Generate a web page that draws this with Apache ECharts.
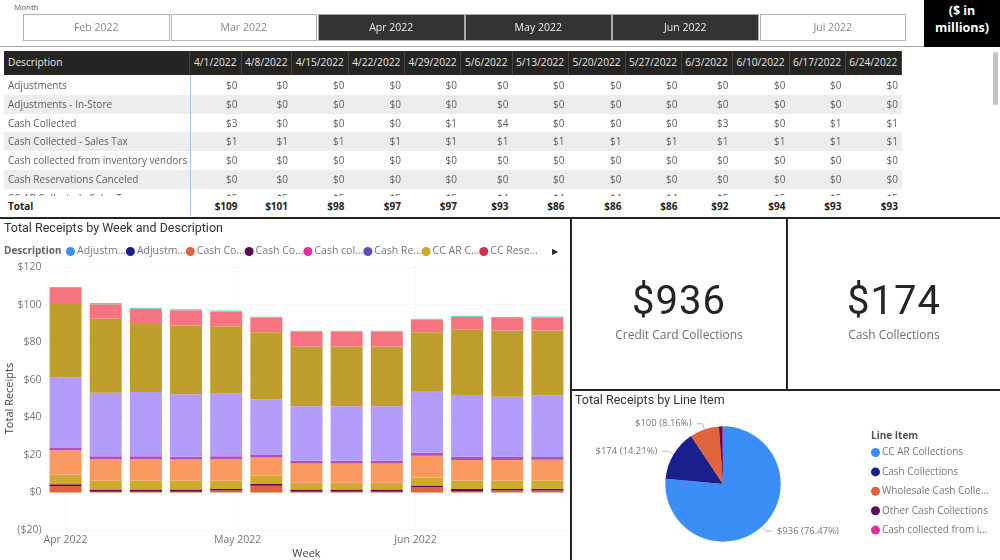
<!DOCTYPE html>
<html>
<head>
<meta charset="utf-8">
<title>Receipts</title>
<script src="https://cdn.jsdelivr.net/npm/echarts@6/dist/echarts.min.js"></script>
<style>
    html, body { margin: 0; padding: 0; background: #fff; }
    #page { position: relative; width: 1000px; height: 560px; overflow: hidden; font-family: "Open Sans", sans-serif; }
    #page div { position: absolute; box-sizing: border-box; white-space: nowrap; }
    #main { left: 0; top: 0; width: 1000px; height: 560px; }
    .slicer { top: 14px; height: 27px; line-height: 25px; text-align: center; font-size: 10.5px; color: #8a8a8a; border: 1px solid #b3b3b3; background: #fff; }
    .slicer.on { background: #333; color: #eee; border-color: #aaa; }
    .cell { font-size: 10px; text-align: right; padding-right: 4px; color: #605e5c; height: 19px; line-height: 19px; }
    .cell.name { text-align: left; padding: 0 0 0 4px; }
    .head { top: 51px; height: 24px; line-height: 22px; background: #252423; color: #e6e6e6; font-size: 10.2px; text-align: center; border-right: 1px solid #444; }
    .tot { top: 197px; height: 19px; line-height: 19px; font-size: 10px; font-weight: 700; color: #222; text-align: right; padding-right: 4px; background: #fff; }
    .rule { background: #252423; }
    .big { font-family: "Roboto", sans-serif; font-size: 40px; letter-spacing: 1px; color: #252423; text-align: center; line-height: 50px; }
    .sub { font-size: 12px; color: #6f6f6f; text-align: center; line-height: 18px; }
</style>
</head>
<body>
<div id="page">
    <div id="main"></div>
</div>
<script>
// slicer
var months = ['Feb 2022', 'Mar 2022', 'Apr 2022', 'May 2022', 'Jun 2022', 'Jul 2022'];
var monthsOn = ['Apr 2022', 'May 2022', 'Jun 2022'];

// table
var weeks = ['4/1/2022', '4/8/2022', '4/15/2022', '4/22/2022', '4/29/2022', '5/6/2022', '5/13/2022', '5/20/2022', '5/27/2022', '6/3/2022', '6/10/2022', '6/17/2022', '6/24/2022'];
var rowNames = ['Adjustments', 'Adjustments - In-Store', 'Cash Collected', 'Cash Collected - Sales Tax', 'Cash collected from inventory vendors', 'Cash Reservations Canceled', 'CC AR Collected - Sales Tax'];
var rowAdjustments = [0, 0, 0, 0, 0, 0, 0, 0, 0, 0, 0, 0, 0];
var rowInStore = [0, 0, 0, 0, 0, 0, 0, 0, 0, 0, 0, 0, 0];
var rowCash = [3, 0, 0, 0, 1, 4, 0, 0, 0, 3, 0, 1, 1];
var rowSalesTax = [1, 1, 1, 1, 1, 1, 1, 1, 1, 1, 1, 1, 1];
var rowVendors = [0, 0, 0, 0, 0, 0, 0, 0, 0, 0, 0, 0, 0];
var rowCanceled = [0, 0, 0, 0, 0, 0, 0, 0, 0, 0, 0, 0, 0];
var rowArTax = [5, 5, 5, 5, 5, 4, 4, 4, 4, 5, 5, 5, 5];
var totals = [109, 101, 98, 97, 97, 93, 86, 86, 86, 92, 94, 93, 93];

// stacked bars
var weekDates = ['2022-04-01', '2022-04-08', '2022-04-15', '2022-04-22', '2022-04-29', '2022-05-06', '2022-05-13', '2022-05-20', '2022-05-27', '2022-06-03', '2022-06-10', '2022-06-17', '2022-06-24'];
var adjustments = [0, 0, 0, 0, 0, 0, 0, 0, 0, 0, 0, 0, 0];
var adjustmentsStore = [0, 0, 0, 0, 0, 0, 0, 0, 0, 0, 0, 0, 0];
var cashCollected = [3.4, 0.4, 0.4, 0.4, 1.0, 3.6, 0.4, 0.4, 0.4, 2.7, 0.5, 1.0, 1.0];
var cashSalesTax = [1.0, 1.1, 1.1, 1.1, 0.8, 0.9, 1.1, 1.1, 1.1, 1.0, 1.3, 0.8, 0.9];
var cashVendors = [0, 0, 0, 0, 0, 0, 0, 0, 0, 0, 0, 0, 0];
var cashReservations = [0, 0, 0, 0, 0, 0, 0, 0, 0, 0, 0, 0, 0];
var ccArTax = [5.2, 4.9, 4.9, 4.9, 4.6, 4.4, 3.6, 3.6, 3.6, 4.3, 4.6, 4.6, 4.5];
var ccReservations = [0, 0, 0, 0, 0, 0, 0, 0, 0, 0, 0, 0, 0];
var item9 = [12.9, 11.3, 11.3, 11.1, 11.3, 9.7, 10.3, 10.3, 10.3, 11.5, 10.8, 10.8, 11.0];
var item10 = [1.4, 1.6, 1.6, 1.5, 1.6, 1.3, 1.4, 1.4, 1.4, 1.6, 1.8, 1.6, 1.4];
var item11 = [37.3, 33.7, 34.1, 33.3, 33.4, 29.6, 29.1, 29.1, 29.1, 32.5, 32.5, 32.1, 32.8];
var item12 = [39.6, 39.4, 36.2, 36.6, 35.8, 35.7, 31.8, 31.8, 31.8, 31.6, 35.3, 35.3, 34.6];
var item13 = [8.0, 7.8, 8.2, 8.1, 7.8, 7.8, 7.8, 7.8, 7.8, 6.7, 6.7, 6.7, 6.9];
var item14 = [0.6, 0.6, 0.5, 0.5, 0.5, 0.5, 0.5, 0.5, 0.5, 0.6, 0.6, 0.5, 0.5];
var monthTicks = ['2022-04-01', '2022-05-01', '2022-06-01'];
var valueTicks = [-20, 0, 20, 40, 60, 80, 100, 120];

// pie
var lineItems = ['CC AR Collections', 'Cash Collections', 'Wholesale Cash Collections', 'Other Cash Collections', 'Cash collected from inventory vendors'];
var lineValues = [936, 174, 100, 13, 1];
var linePercents = ['76.47', '14.21', '8.16', '1.06', '0.10'];

var page = document.getElementById('page');
function add(cls, text, left, top, width, height, extra) {
    var d = document.createElement('div');
    d.className = cls;
    d.textContent = text;
    d.style.left = left + 'px';
    if (top != null) d.style.top = top + 'px';
    if (width != null) d.style.width = width + 'px';
    if (height != null) d.style.height = height + 'px';
    if (extra) d.style.cssText += extra;
    (add.parent || page).appendChild(d);
    return d;
}

// slicer strip
add('', 'Month', 14, 1, null, 12, 'font-size:8px;color:#555;line-height:12px');
var slicerX = [23, 170.5, 318, 465, 612, 759.5];
months.forEach(function (m, i) {
    add('slicer' + (monthsOn.indexOf(m) >= 0 ? ' on' : ''), m, slicerX[i], null, 146.5);
});
add('', '', 0, 46, 924, 1, 'background:#aaa');
add('', '($ in\nmillions)', 924, 0, 76, 47, 'background:#000;color:#fff;font-weight:700;font-size:12.5px;line-height:17px;text-align:center;white-space:pre-line;padding-top:2px');

// table
var colX = [4, 190, 241.5, 292, 348.5, 405, 461, 512.5, 568.5, 625.5, 681.5, 732.5, 789.5, 845.5, 902];
add('head', 'Description', colX[0], null, colX[1] - colX[0], null, 'text-align:left;padding-left:4px;top:51px');
weeks.forEach(function (w, i) {
    add('head', w, colX[i + 1], null, colX[i + 2] - colX[i + 1]);
});
var rows = [rowAdjustments, rowInStore, rowCash, rowSalesTax, rowVendors, rowCanceled, rowArTax];
var rowY = [76, 94.6, 113.5, 132, 151, 170, 189];
var body = add('', '', 0, 76, 902, 119.5, 'overflow:hidden');
add.parent = body;
rows.forEach(function (r, i) {
    var y = rowY[i] - 76;
    if (i % 2 == 1) add('', '', 4, y, 898, 19, 'background:#ededed');
    add('cell name', rowNames[i], 4, y, 186);
    r.forEach(function (v, j) {
        add('cell', '$' + v, colX[j + 1], y, colX[j + 2] - colX[j + 1]);
    });
});
add.parent = null;
add('tot', 'Total', colX[0], null, colX[1] - colX[0], null, 'text-align:left;padding-left:4px');
totals.forEach(function (v, j) {
    add('tot', '$' + v, colX[j + 1], null, colX[j + 2] - colX[j + 1]);
});
add('', '', 189.5, 75, 1, 141, 'background:#a9c4e8');
add('', '', 993, 52, 5, 53, 'background:#c4c4c4;border-radius:2px');

// panel rules
add('rule', '', 0, 217, 1000, 2);
add('rule', '', 570, 218, 2, 342);
add('rule', '', 785.5, 218, 2, 172);
add('rule', '', 570, 389, 430, 2);

// cards
add('big', '$936', 572, 276, 214);
add('sub', 'Credit Card Collections', 572, 326, 214);
add('big', '$174', 788, 276, 212);
add('sub', 'Cash Collections', 788, 326, 212);

// legend pager arrow
add('', '\u25B6', 552, 245, null, 12, 'font-size:8px;line-height:12px;color:#252423');

function toTime(d) {
    return echarts.time.parse(d).getTime();
}
var axisText = { color: '#777', fontSize: 10.5, fontFamily: 'Open Sans' };
var dotted = { show: true, lineStyle: { color: '#e4e4e4', type: [1, 3], width: 1 } };
var halfWeek = 3.5 * 24 * 3600 * 1000;

var barSeries = [
    ['Adjustments', adjustments, '#3a8ef6'],
    ['Adjustments - In-Store', adjustmentsStore, '#1a1f8e'],
    ['Cash Collected', cashCollected, '#e0633b'],
    ['Cash Collected - Sales Tax', cashSalesTax, '#5c0a5c'],
    ['Cash collected from inventory vendors', cashVendors, '#e02fa3'],
    ['Cash Reservations Canceled', cashReservations, '#6a45c0'],
    ['CC AR Collected - Sales Tax', ccArTax, '#d0aa2e'],
    ['CC Reservations', ccReservations, '#d0324f'],
    ['Item 9', item9, '#fa9a61'],
    ['Item 10', item10, '#b44fbf'],
    ['Item 11', item11, '#b49cfa'],
    ['Item 12', item12, '#bf9e2e'],
    ['Item 13', item13, '#f6747f'],
    ['Item 14', item14, '#5fd5c0']
].map(function (s) {
    return {
        name: s[0],
        type: 'bar',
        stack: 'receipts',
        barWidth: 32,
        itemStyle: { color: s[2] },
        data: s[1]
    };
});

var pieColors = ['#3a8ef6', '#1a1f8e', '#e0633b', '#5c0a5c', '#e02fa3'];
var pieData = lineItems.map(function (n, i) {
    var shown = i < 3;
    return {
        name: n,
        value: lineValues[i],
        itemStyle: { color: pieColors[i] },
        label: { show: shown },
        labelLine: { show: shown }
    };
});

var option = {
    animation: false,
    textStyle: { fontFamily: 'Open Sans' },
    title: [
        { text: 'Total Receipts by Week and Description', left: 4, top: 222, padding: 0, textStyle: { fontFamily: 'Roboto', fontSize: 12.5, fontWeight: 400, color: '#333' } },
        { text: 'Description', left: 4, top: 246, padding: 0, textStyle: { fontFamily: 'Open Sans', fontSize: 10, fontWeight: 700, color: '#666' } },
        { text: 'Total Receipts by Line Item', left: 575, top: 394, padding: 0, textStyle: { fontFamily: 'Roboto', fontSize: 12.5, fontWeight: 400, color: '#333' } },
        { text: 'Line Item', left: 871, top: 431, padding: 0, textStyle: { fontFamily: 'Open Sans', fontSize: 10, fontWeight: 700, color: '#555' } }
    ],
    legend: [
        {
            data: barSeries.slice(0, 8).map(function (s) { return s.name; }),
            left: 66, top: 246,
            orient: 'horizontal',
            padding: 0,
            icon: 'circle', itemWidth: 9, itemHeight: 9, itemGap: 0,
            textStyle: { color: '#777', fontSize: 10.5, padding: [0, 0, 0, -3], width: 50, overflow: 'truncate', ellipsis: '...' }
        },
        {
            data: lineItems,
            left: 871, top: 447.5,
            orient: 'vertical',
            padding: 0,
            icon: 'circle', itemWidth: 9, itemHeight: 9, itemGap: 9.4,
            textStyle: { color: '#777', fontSize: 10, padding: [0, 0, 0, -3], width: 110, overflow: 'truncate', ellipsis: '...' }
        }
    ],
    grid: { left: 45.5, width: 522, top: 267, height: 263, containLabel: false, outerBoundsMode: 'none' },
    xAxis: [
        {
            type: 'category',
            data: weekDates,
            name: 'Week',
            nameLocation: 'middle',
            nameGap: 18,
            nameTextStyle: { color: '#444', fontSize: 11 },
            axisLine: { show: false, onZero: false },
            axisTick: { show: false },
            axisLabel: { show: false, color: '#fff', fontSize: 1 },
            splitLine: { show: false }
        },
        {
            // month ticks fall between weeks, so they get their own date scale
            type: 'value',
            position: 'bottom',
            min: toTime(weekDates[0]) - halfWeek,
            max: toTime(weekDates[weekDates.length - 1]) + halfWeek,
            axisLine: { show: false },
            axisTick: { show: false, customValues: monthTicks.map(toTime) },
            axisLabel: Object.assign({}, axisText, {
                customValues: monthTicks.map(toTime),
                margin: 5,
                formatter: function (v) { return echarts.time.format(v, '{MMM} {yyyy}', false); }
            }),
            splitLine: dotted
        }
    ],
    yAxis: {
        type: 'value',
        min: valueTicks[0],
        max: valueTicks[valueTicks.length - 1],
        interval: 20,
        name: 'Total Receipts',
        nameLocation: 'middle',
        nameGap: 30,
        nameMoveOverlap: false,
        nameTextStyle: { color: '#444', fontSize: 11 },
        axisLine: { show: false },
        axisTick: { show: false },
        axisLabel: Object.assign({}, axisText, {
            margin: 4,
            formatter: function (v) { return v < 0 ? '($' + (-v) + ')' : '$' + v; }
        }),
        splitLine: dotted
    },
    series: barSeries.concat([{
        name: 'Line Item',
        type: 'pie',
        center: [723, 484],
        radius: 57.7,
        startAngle: 90,
        clockwise: true,
        data: pieData,
        label: {
            position: 'outside',
            color: '#777',
            fontSize: 9.5,
            formatter: function (p) { return '$' + p.value + ' (' + linePercents[p.dataIndex] + '%)'; }
        },
        labelLine: { length: 6, length2: 6, lineStyle: { color: '#bbb', width: 1 } }
    }])
};

var myChart = echarts.init(document.getElementById('main'));
myChart.setOption(option);
</script>
</body>
</html>
